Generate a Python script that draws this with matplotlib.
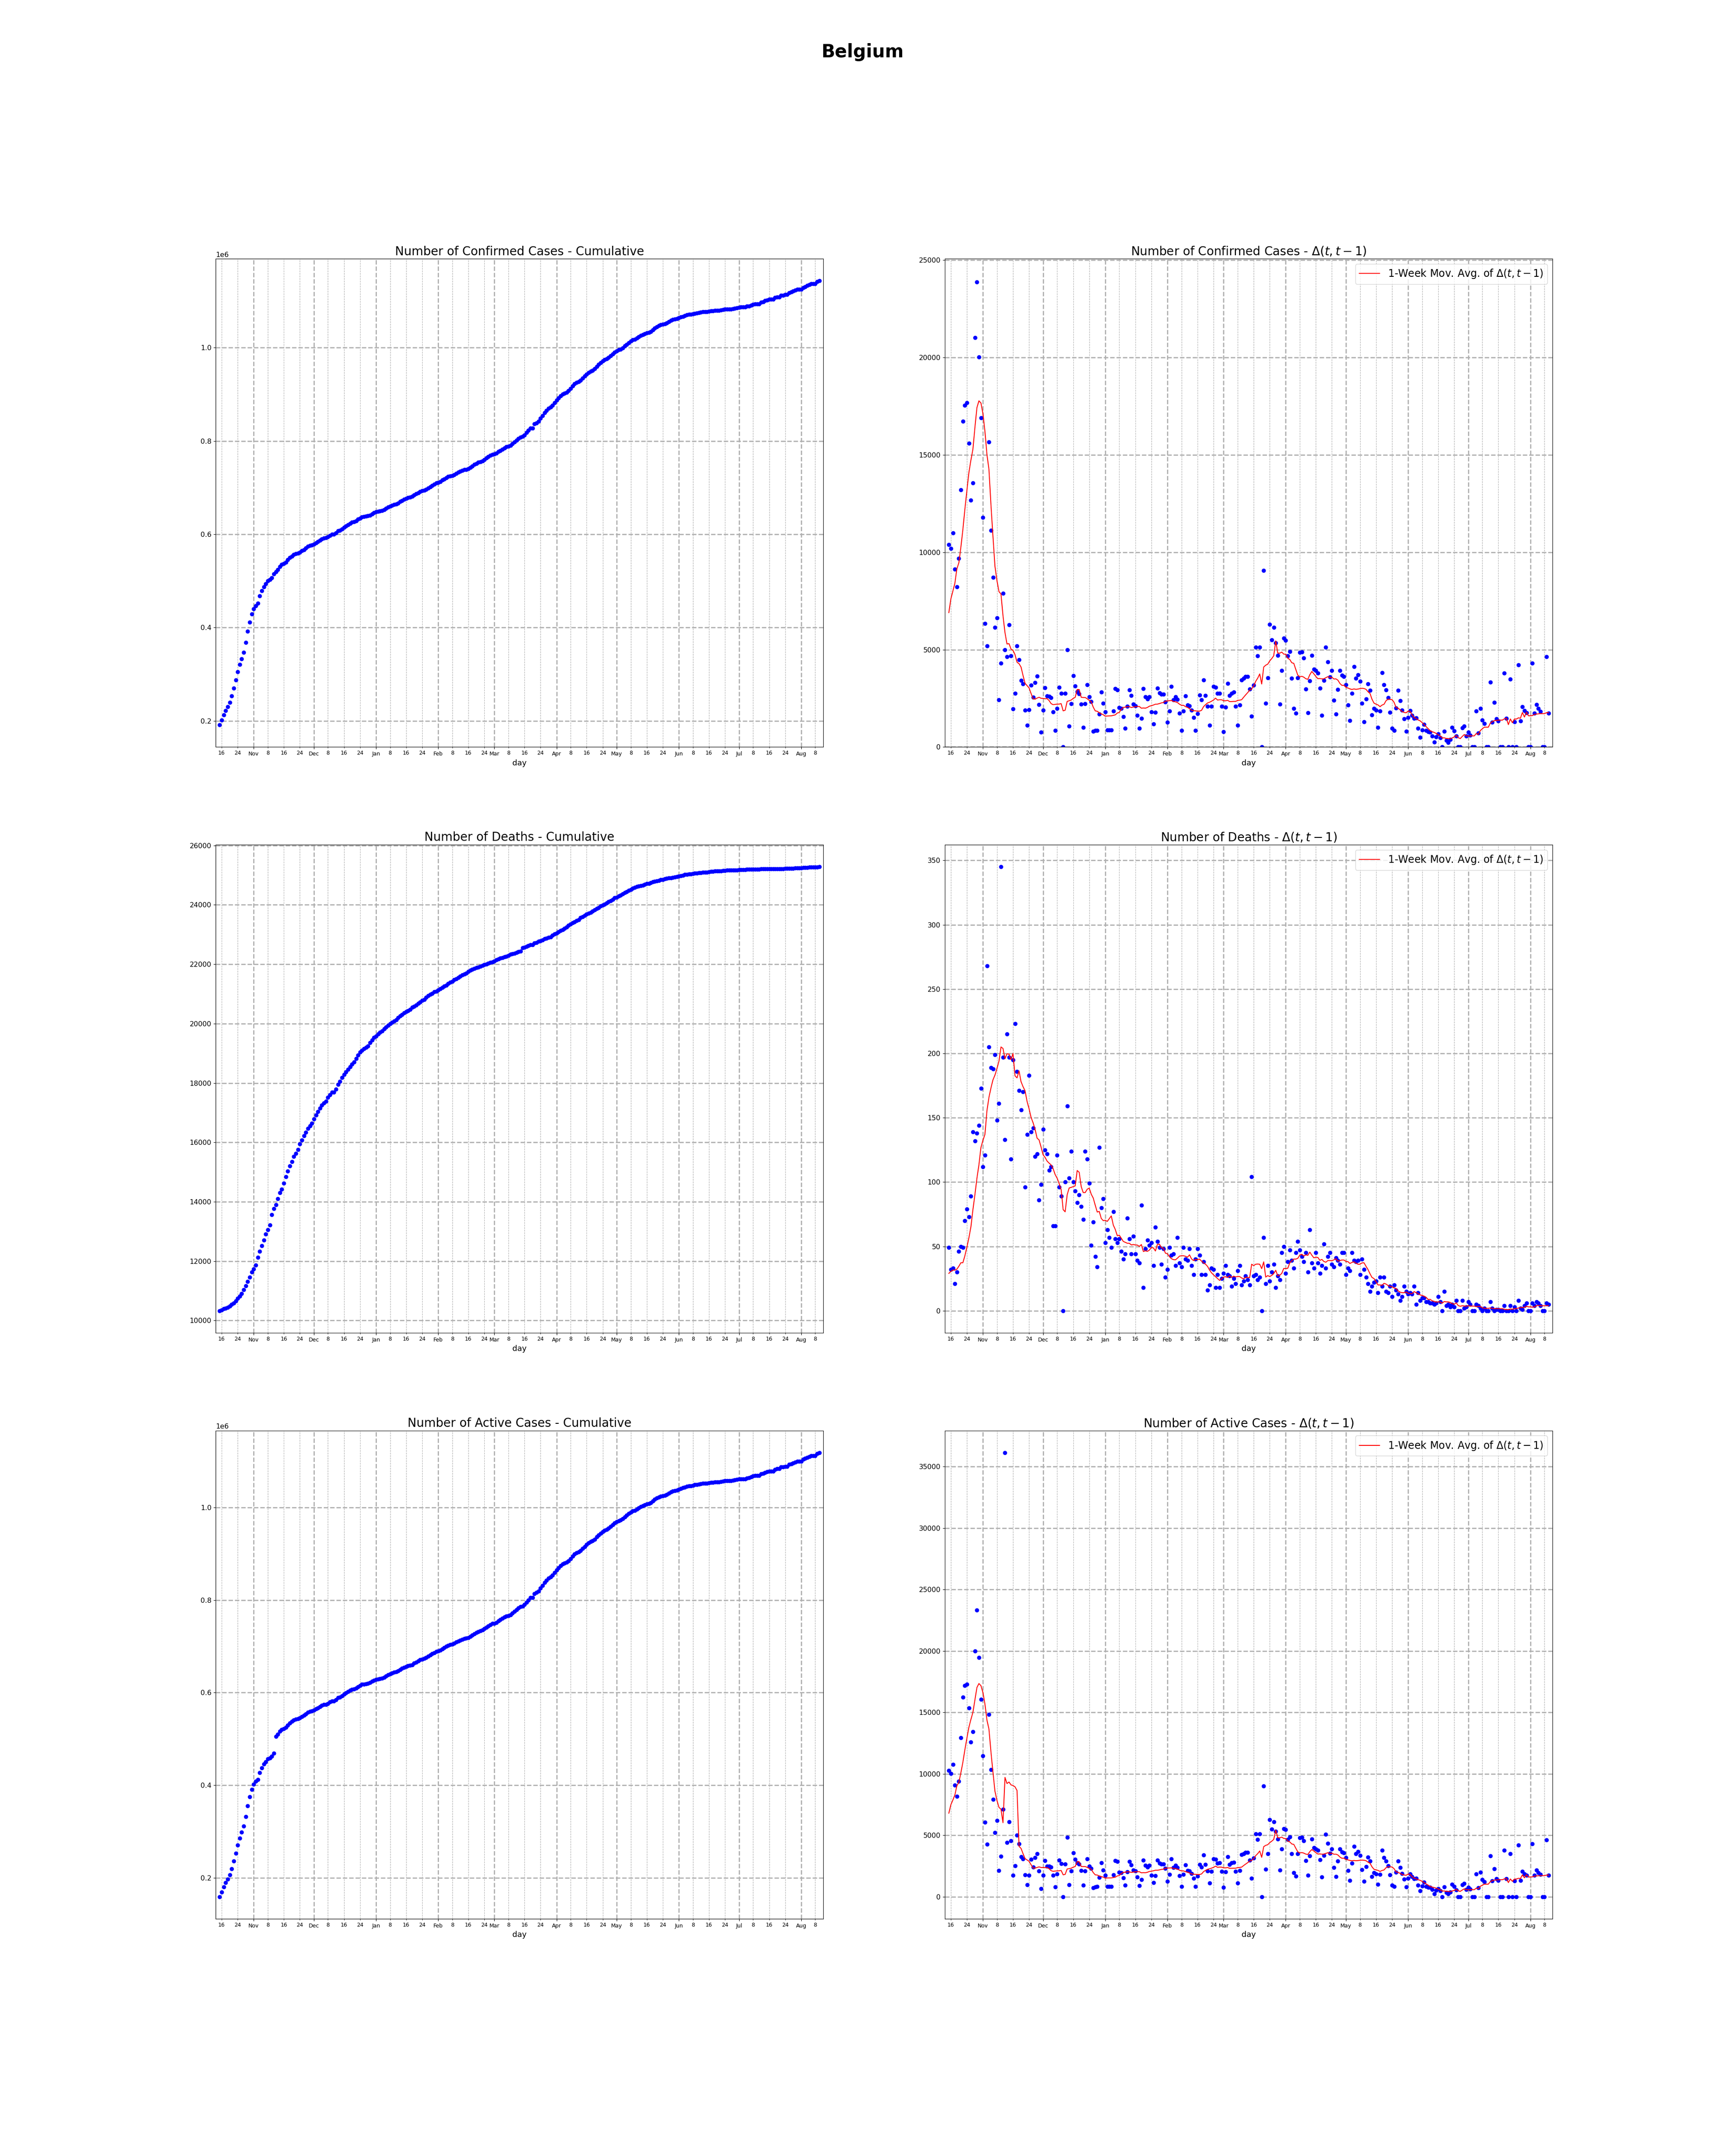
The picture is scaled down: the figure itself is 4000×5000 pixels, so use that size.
import matplotlib
matplotlib.use('Agg')
import matplotlib.pyplot as plt
import matplotlib.dates as mdates
from matplotlib.ticker import FuncFormatter
import numpy as np
import pandas as pd

# Dates shown (Oct 15 2020 -> Aug 10 2021)
dates = pd.date_range('2020-10-15', '2021-08-10', freq='D')

# Daily new confirmed cases (one row per month)
conf_daily = [
    10400, 10200, 11000, 9120, 8220, 9680, 13200, 16730, 17540, 17680, 15600, 12680, 13560, 21020, 23880, 20020, 16900,
    11780, 6340, 5190, 15660, 11120, 8700, 6140, 6630, 2420, 4300, 7900, 5000, 4630, 6270, 4680, 1950, 2750, 5190, 4470, 3420,
    3240, 1880, 1120, 1920, 3170, 2560, 3300, 3630, 2170, 750,
    1880, 3050, 2610, 2590, 2530, 1810, 850, 1970, 3070, 2760, 0, 2760, 4980, 1080, 2220, 3660, 3140, 2850, 2730, 2190,
    1000, 2220, 3200, 2580, 2340, 800, 850, 850, 1680, 2830, 2250,
    1800, 880, 880, 880, 1850, 3000, 2920, 2030, 1980, 1560, 970, 2080, 2930, 2640, 2200, 2120, 1630, 950, 1470, 3000,
    2580, 2460, 2580, 1800, 1190, 1780, 3020, 2780, 2700, 2710, 2310,
    1270, 1850, 3100, 2420, 2580, 2440, 1730, 860, 1850, 2630, 2150, 2120, 1900, 1510, 850, 1710, 2660, 2420, 3440, 2640,
    2100, 1120, 2080, 3100, 3070, 2760, 2760, 2080,
    780, 2050, 3270, 2640, 2760, 2810, 2080, 1120, 2150, 3440, 3530, 3610, 3610, 2970, 1580, 3170, 5120, 4680, 5120, 0,
    9070, 2240, 3540, 6300, 5510, 6140, 5340, 4700, 2190, 3920, 5590,
    5470, 4680, 4900, 3530, 1980, 1730, 3540, 4850, 4880, 4580, 2980, 1760, 3390, 4710, 4000, 3930, 3800, 3020, 1630, 3420,
    5120, 4360, 3590, 3930, 2390, 1680, 2950, 3930, 3680, 3610,
    3200, 2150, 1360, 2750, 4120, 3530, 3710, 3370, 2250, 1290, 2460, 3250, 2900, 1640, 1980, 1880, 1000, 1850, 3810, 3200,
    2920, 2530, 1780, 950, 860, 2000, 2900, 2370, 1900, 1440, 810,
    1510, 1860, 1630, 1470, 1490, 950, 490, 880, 1170, 840, 780, 760, 570, 245, 510, 675, 480, 0, 815, 333,
    222, 390, 1015, 837, 555, 0, 0, 990, 1070, 570,
    750, 615, 0, 0, 1845, 726, 1970, 1370, 1207, 0, 0, 3326, 1281, 2281, 1444, 1326, 0, 0, 3793, 1474,
    0, 3480, 0, 1300, 0, 4220, 1333, 2060, 1860, 1755, 0,
    0, 4300, 1733, 2170, 1970, 1822, 0, 0, 4637, 1726,
]

# Daily new deaths
death_daily = [
    49, 32, 33, 21, 30, 46, 50, 49, 70, 79, 73, 89, 139, 132, 138, 144, 173,
    112, 121, 268, 205, 189, 188, 199, 148, 161, 345, 197, 133, 215, 197, 118, 195, 223, 186, 171, 156,
    170, 96, 137, 183, 139, 142, 120, 122, 86, 98,
    141, 125, 122, 109, 112, 66, 66, 121, 96, 89, 0, 100, 159, 103, 124, 100, 93, 84, 90, 81,
    71, 124, 118, 99, 51, 69, 42, 34, 127, 80, 87,
    53, 63, 57, 49, 77, 56, 53, 56, 46, 40, 44, 72, 56, 44, 58, 44, 39, 37, 82, 18,
    48, 55, 51, 53, 35, 65, 54, 49, 36, 48, 26,
    32, 49, 43, 44, 35, 57, 37, 34, 49, 40, 39, 48, 35, 28, 40, 48, 43, 28, 38, 28,
    16, 20, 33, 32, 18, 28, 18, 25,
    29, 35, 28, 27, 19, 25, 21, 31, 35, 20, 23, 27, 24, 20, 104, 27, 28, 24, 26, 0,
    57, 21, 35, 23, 30, 36, 18, 27, 24, 45, 50,
    29, 38, 47, 39, 33, 45, 54, 47, 42, 38, 45, 30, 63, 37, 33, 45, 37, 29, 35, 52,
    33, 42, 45, 36, 34, 41, 39, 36, 45, 45,
    28, 33, 31, 45, 39, 38, 39, 28, 40, 32, 26, 21, 15, 19, 22, 23, 14, 26, 19, 26,
    15, 14, 19, 11, 20, 16, 13, 8, 11, 19, 15,
    13, 14, 13, 19, 5, 14, 8, 10, 10, 7, 7, 6, 6, 5, 6, 11, 7, 0, 15, 4,
    5, 3, 5, 3, 8, 0, 0, 8, 2, 3,
    7, 5, 0, 0, 5, 4, 2, 0, 2, 0, 0, 7, 2, 0, 1, 1, 0, 0, 4, 0,
    0, 4, 0, 3, 0, 8, 2, 1, 4, 6, 0,
    0, 6, 4, 7, 6, 4, 0, 0, 6, 5,
]

# Recovered: counted until Nov 11, then the series is reset to 0 on Nov 12
rec_daily_early = [80, 140, 220, 30, 30, 250, 210, 450, 280, 330,
                   180, 0, 0, 890, 430, 410, 660, 220, 180, 640,
                   640, 610, 600, 730, 280, 150, 690, 590]

# Totals on Oct 14 2020 (day before the first plotted day)
conf_start = 181000
death_start = 10280
rec_start = 21340

# The 6 days before Oct 15 (only used by the moving average)
conf_pre = [5300, 8200, 6300, 3000, 7500, 7600]
death_pre = [21, 26, 21, 25, 30, 31]
rec_pre = [70, 90, 60, 100, 80, 80]

# Cumulative series
conf_cum = conf_start + np.cumsum(conf_daily)
death_cum = death_start + np.cumsum(death_daily)
rec_cum = np.zeros(len(dates))
rec_cum[:len(rec_daily_early)] = rec_start + np.cumsum(rec_daily_early)
active_cum = conf_cum - death_cum - rec_cum
active_start = conf_start - death_start - rec_start
active_daily = np.diff(np.concatenate([[active_start], active_cum]))
active_pre = np.array(conf_pre) - np.array(death_pre) - np.array(rec_pre)


def mov_avg(pre, daily):
    s = pd.Series(np.concatenate([pre, daily]).astype(float))
    return s.rolling(7).mean().values[len(pre):]


def day_fmt(x, pos):
    return str(mdates.num2date(x).day)


def style_axis(ax, title):
    ax.set_title(title, fontsize=20)
    ax.set_xlabel('day', fontsize=13)
    ax.xaxis.set_major_locator(mdates.MonthLocator())
    ax.xaxis.set_major_formatter(mdates.DateFormatter('%b'))
    ax.xaxis.set_minor_locator(mdates.DayLocator(bymonthday=[8, 16, 24]))
    ax.xaxis.set_minor_formatter(FuncFormatter(day_fmt))
    ax.tick_params(axis='x', which='both', labelsize=9)
    ax.tick_params(axis='y', labelsize=11.5)
    ax.yaxis.get_offset_text().set_fontsize(11.5)
    ax.grid(which='major', linestyle='--', linewidth=2, color='#b0b0b0')
    ax.grid(which='minor', axis='x', linestyle='--', linewidth=0.8, color='#b0b0b0')
    ax.set_xlim(dates[0] - pd.Timedelta(days=2), dates[-1] + pd.Timedelta(days=2))


fig, axes = plt.subplots(3, 2, figsize=(40, 50))
fig.suptitle('Belgium', fontsize=30, fontweight='bold')

rows = [
    ('Confirmed Cases', conf_cum, conf_daily, conf_pre),
    ('Deaths', death_cum, death_daily, death_pre),
    ('Active Cases', active_cum, active_daily, active_pre),
]

for r, (name, cum, daily, pre) in enumerate(rows):
    ax_l, ax_r = axes[r]
    ax_l.plot(dates, cum, 'o', color='blue', markersize=6)
    style_axis(ax_l, 'Number of %s - Cumulative' % name)

    ax_r.plot(dates, daily, 'o', color='blue', markersize=6)
    ax_r.plot(dates, mov_avg(pre, daily), color='red', linewidth=1.5,
              label='1-Week Mov. Avg. of $\\Delta(t, t-1)$')
    style_axis(ax_r, 'Number of %s - $\\Delta(t, t-1)$' % name)
    ax_r.legend(loc='upper right', fontsize=17)

axes[0, 1].set_ylim(bottom=0)

fig.savefig('out.png', dpi=100)
